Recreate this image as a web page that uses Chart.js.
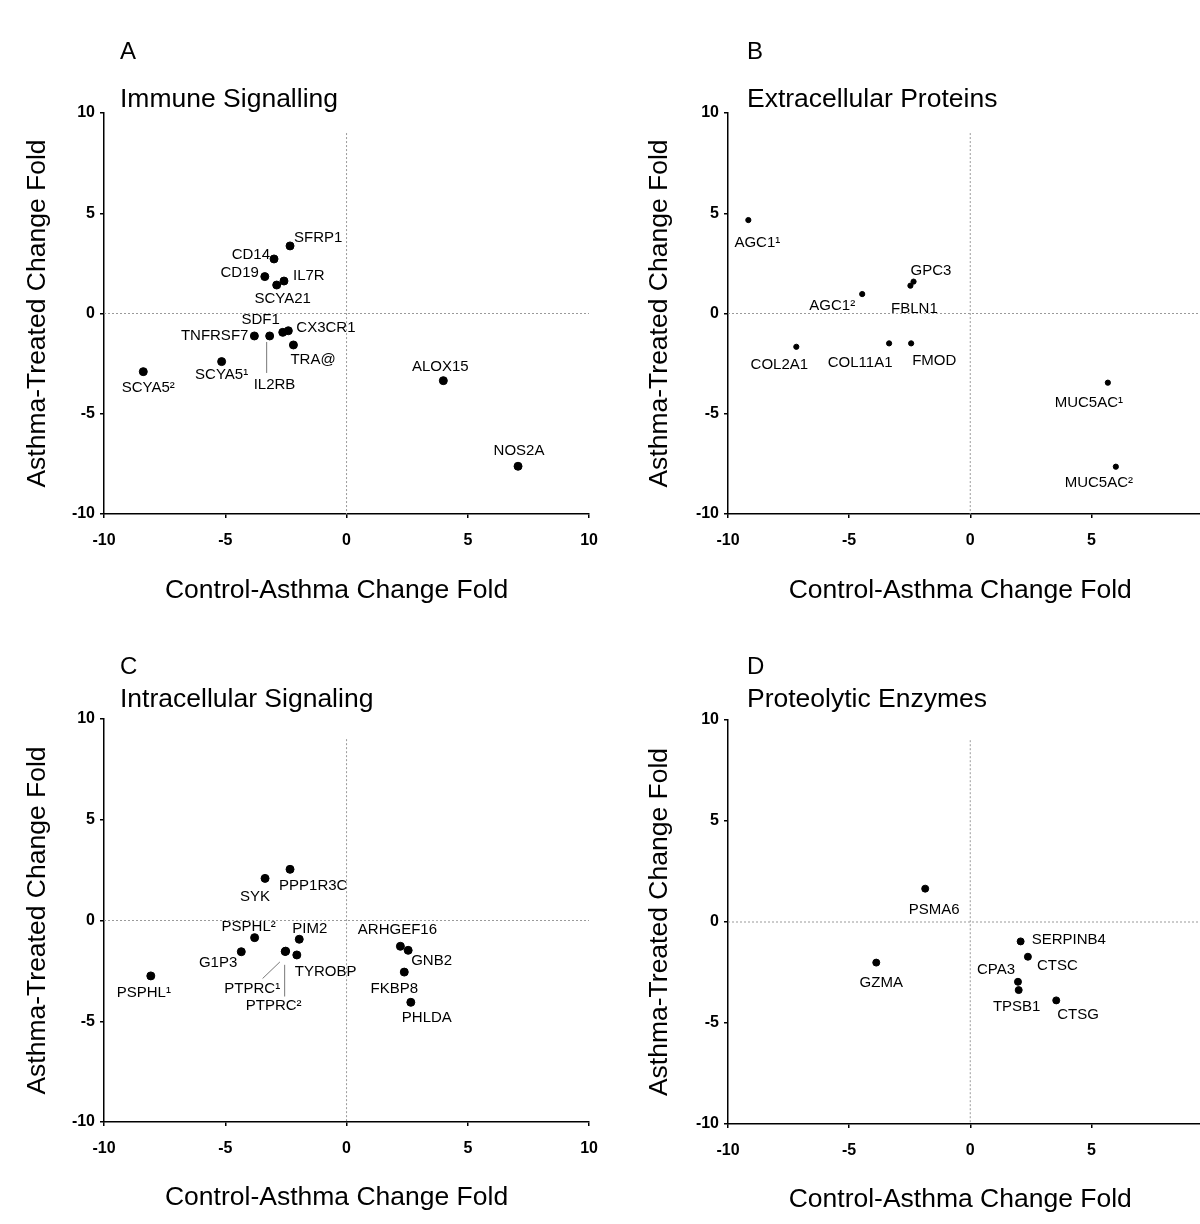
<!DOCTYPE html>
<html>
<head>
<meta charset="utf-8">
<script src="https://cdn.jsdelivr.net/npm/chart.js@4.4.0/dist/chart.umd.min.js"></script>
<style>
  html, body { margin: 0; padding: 0; background: #fff; overflow: hidden; }
  #wrap { position: relative; width: 1200px; height: 1224px; overflow: hidden; }
  .panel { position: absolute; }
</style>
</head>
<body>
<div id="wrap">
  <div class="panel" style="left:0;top:0"><canvas id="cA" width="611" height="612"></canvas></div>
  <div class="panel" style="left:600px;top:0"><canvas id="cB" width="640" height="612"></canvas></div>
  <div class="panel" style="left:0;top:612px"><canvas id="cC" width="611" height="612"></canvas></div>
  <div class="panel" style="left:600px;top:612px"><canvas id="cD" width="640" height="612"></canvas></div>
</div>
<script>
// ---- data ----
const axisTicks = [-10, -5, 0, 5, 10];
const zeroLineX = [-10, 10];     // horizontal dashed line at y = 0
const zeroLineY = [9, -10];      // vertical dashed line at x = 0

const genesA = ["SFRP1", "CD14", "CD19", "IL7R", "SCYA21", "TNFRSF7", "IL2RB", "SDF1", "CX3CR1", "TRA@", "SCYA5¹", "SCYA5²", "ALOX15", "NOS2A"];
const xA = [-2.33, -2.99, -3.37, -2.58, -2.88, -3.80, -3.17, -2.63, -2.40, -2.19, -5.15, -8.38, 3.99, 7.07];
const yA = [3.37, 2.72, 1.84, 1.62, 1.42, -1.12, -1.12, -0.94, -0.86, -1.57, -2.40, -2.90, -3.35, -7.62];

const genesB = ["AGC1¹", "GPC3", "FBLN1", "AGC1²", "COL2A1", "COL11A1", "FMOD", "MUC5AC¹", "MUC5AC²"];
const xB = [-9.16, -2.34, -2.47, -4.46, -7.18, -3.35, -2.44, 5.68, 6.01];
const yB = [4.66, 1.59, 1.39, 0.97, -1.66, -1.49, -1.49, -3.45, -7.64];

const genesC = ["PPP1R3C", "SYK", "PSPHL²", "PIM2", "G1P3", "PTPRC¹", "PTPRC²", "TYROBP", "PSPHL¹", "ARHGEF16", "GNB2", "FKBP8", "PHLDA"];
const xC = [-2.33, -3.36, -3.79, -1.95, -4.34, -2.53, -2.51, -2.05, -8.07, 2.22, 2.54, 2.38, 2.65];
const yC = [2.54, 2.09, -0.85, -0.93, -1.55, -1.54, -1.52, -1.71, -2.75, -1.28, -1.48, -2.56, -4.06];

const genesD = ["PSMA6", "GZMA", "SERPINB4", "CTSC", "CPA3", "TPSB1", "CTSG"];
const xD = [-1.86, -3.88, 2.08, 2.38, 1.97, 2.00, 3.55];
const yD = [1.65, -2.01, -0.96, -1.72, -2.96, -3.37, -3.88];

// ---- label placement (px offsets from each dot: dx, dy, align, optional leader line) ----
const labA = [[4,-8,"left"],[-4,-4,"right"],[-6,-4,"right"],[9,-5,"left"],[6,14,"center"],[-6,0,"right"],
  [-16,49,"left",-3,6,-3,37],[-3,-12,"right"],[8,-3,"left"],[-3,15,"left"],[0,13,"center"],[5,16,"center"],
  [-3,-14,"center"],[1,-15,"center"]];
const labB = [[9,23,"center"],[-3,-11,"left"],[4,23,"center"],[-7,12,"right"],[-17,18,"center"],
  [-29,19,"center"],[1,17,"left"],[-19,20,"center"],[-17,16,"center"]];
const labC = [[-11,17,"left"],[-10,18,"center"],[-6,-11,"center"],[-7,-10,"left"],[-4,11,"right"],
  [-5,37,"right",-22.6,27,-5.3,10.4],[-12,55,"center",-1,13.7,-1,45.4],[-2,17,"left"],[-7,17,"center"],
  [-3,-16,"center"],[3,11,"left"],[-10,17,"center"],[16,16,"center"]];
const labD = [[9,21,"center"],[5,20,"center"],[11,-2,"left"],[9,9,"left"],[-3,-12,"right"],[-2,17,"center"],[1,14,"left"]];

const FONT = "'Liberation Sans', Arial, sans-serif";

const panelText = {
  id: "panelText",
  afterDatasetsDraw(chart, args, opts) {
    const ctx = chart.ctx;
    const area = chart.chartArea;
    ctx.save();
    ctx.fillStyle = "#000";
    ctx.textBaseline = "middle";
    ctx.textAlign = "left";
    ctx.font = "24px " + FONT;
    ctx.fillText(opts.letter, opts.tx, opts.letterY);
    ctx.font = "26.5px " + FONT;
    ctx.fillText(opts.title, opts.tx, opts.titleY);
    // x axis title, sits a little left of the plot centre in the original
    ctx.textAlign = "center";
    ctx.fillText("Control-Asthma Change Fold", (area.left + area.right) / 2 - 10, opts.xTitleY);

    const meta = chart.getDatasetMeta(0);
    ctx.font = "15px " + FONT;
    ctx.strokeStyle = "#777";
    ctx.lineWidth = 1;
    meta.data.forEach((pt, i) => {
      const l = opts.labels[i];
      ctx.textAlign = l[2];
      ctx.fillText(opts.names[i], pt.x + l[0], pt.y + l[1]);
      if (l.length > 3) {
        ctx.beginPath();
        ctx.moveTo(pt.x + l[3], pt.y + l[4]);
        ctx.lineTo(pt.x + l[5], pt.y + l[6]);
        ctx.stroke();
      }
    });
    ctx.restore();
  }
};

function makePanel(id, cfg) {
  const pts = cfg.xs.map((x, i) => ({ x: x, y: cfg.ys[i] }));
  const dash = { borderColor: "#9a9a9a", borderWidth: 1, borderDash: [2, 2], pointRadius: 0, fill: false, type: "line" };
  new Chart(document.getElementById(id), {
    type: "scatter",
    data: {
      datasets: [
        { data: pts, backgroundColor: "#000", borderColor: "#000", pointRadius: cfg.r, pointHoverRadius: cfg.r },
        Object.assign({ data: zeroLineX.map(v => ({ x: v, y: 0 })) }, dash),
        Object.assign({ data: zeroLineY.map(v => ({ x: 0, y: v })) }, dash),
      ],
    },
    options: {
      responsive: false,
      animation: false,
      events: [],
      layout: { padding: { left: 0, top: cfg.top, right: cfg.right, bottom: 0 } },
      scales: {
        x: {
          type: "linear", min: -10, max: 10,
          afterBuildTicks: s => { s.ticks = axisTicks.map(v => ({ value: v })); },
          afterFit: s => { s.height = cfg.xh; },
          ticks: { color: "#000", font: { family: FONT, size: 16, weight: "bold" }, padding: 13, maxRotation: 0 },
          grid: { drawOnChartArea: false, tickLength: 4, color: "#000", lineWidth: 1.5 },
          border: { color: "#000", width: 1.5 },
        },
        y: {
          type: "linear", min: -10, max: 10,
          afterBuildTicks: s => { s.ticks = axisTicks.map(v => ({ value: v })); },
          afterFit: s => { s.width = cfg.yw; },
          ticks: { color: "#000", font: { family: FONT, size: 16, weight: "bold" }, padding: 5 },
          grid: { drawOnChartArea: false, tickLength: 4, color: "#000", lineWidth: 1.5 },
          border: { color: "#000", width: 1.5 },
          title: { display: true, text: "Asthma-Treated Change Fold", color: "#000",
                   font: { family: FONT, size: 26.5 }, padding: { top: cfg.ytp, bottom: 0 } },
        },
      },
      plugins: {
        legend: { display: false },
        tooltip: { enabled: false },
        panelText: { letter: cfg.letter, title: cfg.title, tx: cfg.tx, letterY: cfg.ly, titleY: cfg.tly,
                     xTitleY: cfg.xty, names: cfg.names, labels: cfg.labels },
      },
    },
    plugins: [panelText],
  });
}

makePanel("cA", { xs: xA, ys: yA, names: genesA, labels: labA, r: 4, letter: "A", title: "Immune Signalling",
  tx: 120, ly: 52, tly: 100, top: 113, right: 0, xh: 98, yw: 104, ytp: 22, xty: 591 });
makePanel("cB", { xs: xB, ys: yB, names: genesB, labels: labB, r: 2.6, letter: "B", title: "Extracellular Proteins",
  tx: 147, ly: 52, tly: 100, top: 113, right: 27.5, xh: 98, yw: 128, ytp: 44, xty: 591 });
makePanel("cC", { xs: xC, ys: yC, names: genesC, labels: labC, r: 4, letter: "C", title: "Intracellular Signaling",
  tx: 120, ly: 55, tly: 88, top: 107, right: 0, xh: 102, yw: 104, ytp: 22, xty: 586 });
makePanel("cD", { xs: xD, ys: yD, names: genesD, labels: labD, r: 3.5, letter: "D", title: "Proteolytic Enzymes",
  tx: 147, ly: 55, tly: 88, top: 108, right: 27.5, xh: 100, yw: 128, ytp: 44, xty: 588 });
</script>
</body>
</html>
